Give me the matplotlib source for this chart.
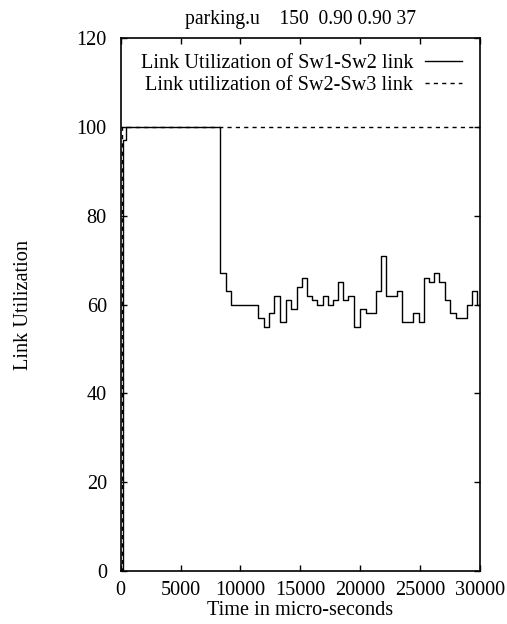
import matplotlib
matplotlib.use("Agg")
import matplotlib.pyplot as plt

# Sw1-Sw2 link: step start times (micro-seconds) and utilization values
sw12_time = [0, 190, 420, 8292, 8768, 9210, 9661, 10120, 10571, 11030,
             11490, 11966, 12408, 12826, 13302, 13803, 14220, 14696, 15114, 15531,
             15949, 16416, 16867, 17285, 17752, 18170, 18587, 19005, 19481, 19982,
             20483, 20900, 21318, 21710, 22153, 22620, 23096, 23514, 23973, 24432,
             24908, 25326, 25768, 26186, 26604, 27080, 27523, 27973, 28441, 28917,
             29334, 29726, 30000]
sw12_util = [0, 97, 100, 67, 63, 60, 60, 60, 60, 60,
             57, 55, 58, 62, 56, 61, 59, 64, 66, 62,
             61, 60, 62, 60, 61, 65, 61, 62, 55, 59,
             58, 58, 63, 71, 62, 62, 63, 56, 56, 58,
             56, 66, 65, 67, 65, 61, 58, 57, 57, 60,
             63, 60, 60]

# Sw2-Sw3 link
sw23_time = [0, 100, 30000]
sw23_util = [0, 100, 100]

title = "parking.u    150  0.90 0.90 37"
xticks = [0, 5000, 10000, 15000, 20000, 25000, 30000]
yticks = [0, 20, 40, 60, 80, 100, 120]

plt.rcParams['font.family'] = ['Liberation Serif', 'DejaVu Serif']
fs = 14.6

fig = plt.figure(figsize=(5.07, 6.24), dpi=100)
ax = fig.add_axes([120.7 / 507, 53 / 624, 359.3 / 507, 533 / 624])

ax.plot(sw12_time, sw12_util, drawstyle='steps-post', color='black', lw=1.0,
        label='Link Utilization of Sw1-Sw2 link')
ax.plot(sw23_time, sw23_util, drawstyle='steps-post', color='black', lw=1.0,
        linestyle=(0, (3, 3)), label='Link utilization of Sw2-Sw3 link')

ax.set_xlim(0, 30000)
ax.set_ylim(0, 120)
ax.set_xticks(xticks)
ax.set_yticks(yticks)
ax.tick_params(direction='in', length=4.5, width=1, top=True, right=True,
               labelsize=fs)
ax.tick_params(axis='x', pad=7)
ax.tick_params(axis='y', pad=10)
for s in ax.spines.values():
    s.set_linewidth(1.2)

ax.set_title(title, fontsize=14.1, pad=10)
ax.set_xlabel('Time in micro-seconds', fontsize=fs, labelpad=1)
ax.set_ylabel('Link Utilization', fontsize=fs)
ax.yaxis.set_label_coords(-0.245, 0.5)

leg = ax.legend(loc='upper right', bbox_to_anchor=(0.949, 0.97), frameon=False,
                markerfirst=False, fontsize=fs, handlelength=1.8,
                handletextpad=0.6, borderpad=0, borderaxespad=0,
                labelspacing=0.15)
for col in leg._legend_box.get_children()[1].get_children():
    col.align = 'right'

fig.savefig('out.png', dpi=100)
